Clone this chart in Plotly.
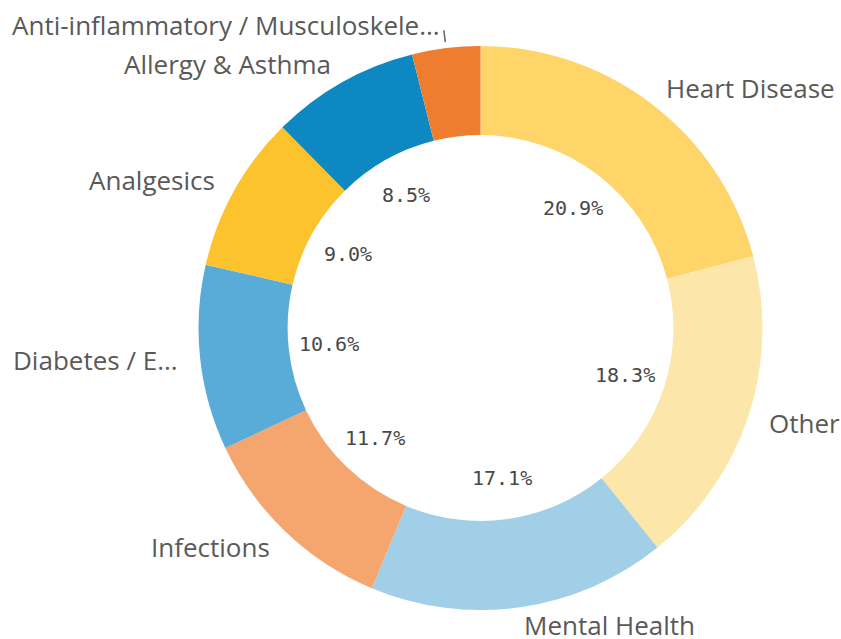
import math
import plotly.graph_objects as go

categories = ["Heart Disease", "Other", "Mental Health", "Infections",
              "Diabetes / E...", "Analgesics", "Allergy & Asthma",
              "Anti-inflammatory / Musculoskele..."]
shares = [20.9, 18.3, 17.1, 11.7, 10.6, 9.0, 8.5, 3.9]
colors = ["#FFD56A", "#FDE6AA", "#A1CFE8", "#F4A66E",
          "#58ACD7", "#FDC32D", "#0E88C2", "#EF7D2F"]

FW, FH = 841, 639
CX, CY, R = 480.5, 328.0, 282.0  # screen pixels
HOLE = 0.684
MIN_PCT_LABEL = 5.0


def px(x, y):
    return x / FW, 1 - y / FH


x_lo, y_top = px(CX - R, CY - R)
x_hi, y_bot = px(CX + R, CY + R)

fig = go.Figure(go.Pie(
    labels=categories, values=shares, sort=False, direction="clockwise",
    rotation=0, hole=HOLE, textinfo="none", hoverinfo="label+percent",
    marker=dict(colors=colors, line=dict(width=0)),
    domain=dict(x=[x_lo, x_hi], y=[y_bot, y_top]),
    showlegend=False,
))

LABEL_FONT = dict(family="Open Sans", size=26, color="#595959")
total = sum(shares)
annotations = []
shapes = []
cum = 0.0
for i, (cat, v) in enumerate(zip(categories, shares)):
    mid = (cum + v / 2) / total * 2 * math.pi
    cum += v
    s, c = math.sin(mid), math.cos(mid)
    pct = v / total * 100
    if pct >= MIN_PCT_LABEL:
        rp = 152
        x, y = px(CX + rp * s, CY - rp * c)
        annotations.append(dict(x=x, y=y, xref="paper", yref="paper", showarrow=False,
                                text=f"{pct:.1f}%", xanchor="center", yanchor="middle",
                                font=dict(family="DejaVu Sans Mono", size=20, color="#484848")))
    if i == len(categories) - 1:
        x0, y0 = CX + 288 * s, CY - 288 * c
        x1, y1 = CX + 300 * s, CY - 300 * c
        a0, b0 = px(x0, y0)
        a1, b1 = px(x1, y1)
        shapes.append(dict(type="line", xref="paper", yref="paper",
                           x0=a0, y0=b0, x1=a1, y1=b1,
                           line=dict(color="#666666", width=1.5)))
        lx, ly = px(x1 - 3, y1 - 5)
        annotations.append(dict(x=lx, y=ly, xref="paper", yref="paper", showarrow=False,
                                text=cat, xanchor="right", yanchor="middle", font=LABEL_FONT,
                                borderpad=0))
    else:
        ro = 303
        lx, ly = px(CX + ro * s, min(CY - ro * c, FH - 14))
        annotations.append(dict(x=lx, y=ly, xref="paper", yref="paper", showarrow=False,
                                text=cat, xanchor="left" if s > 0 else "right",
                                yanchor="middle", font=LABEL_FONT, borderpad=0))

fig.update_layout(width=FW, height=FH, margin=dict(l=0, r=0, t=0, b=0),
                  paper_bgcolor="white", plot_bgcolor="white",
                  annotations=annotations, shapes=shapes)
fig.write_html("out.html", config={"displayModeBar": False},
               post_script="document.body.style.margin='0';document.body.style.overflow='hidden';")
